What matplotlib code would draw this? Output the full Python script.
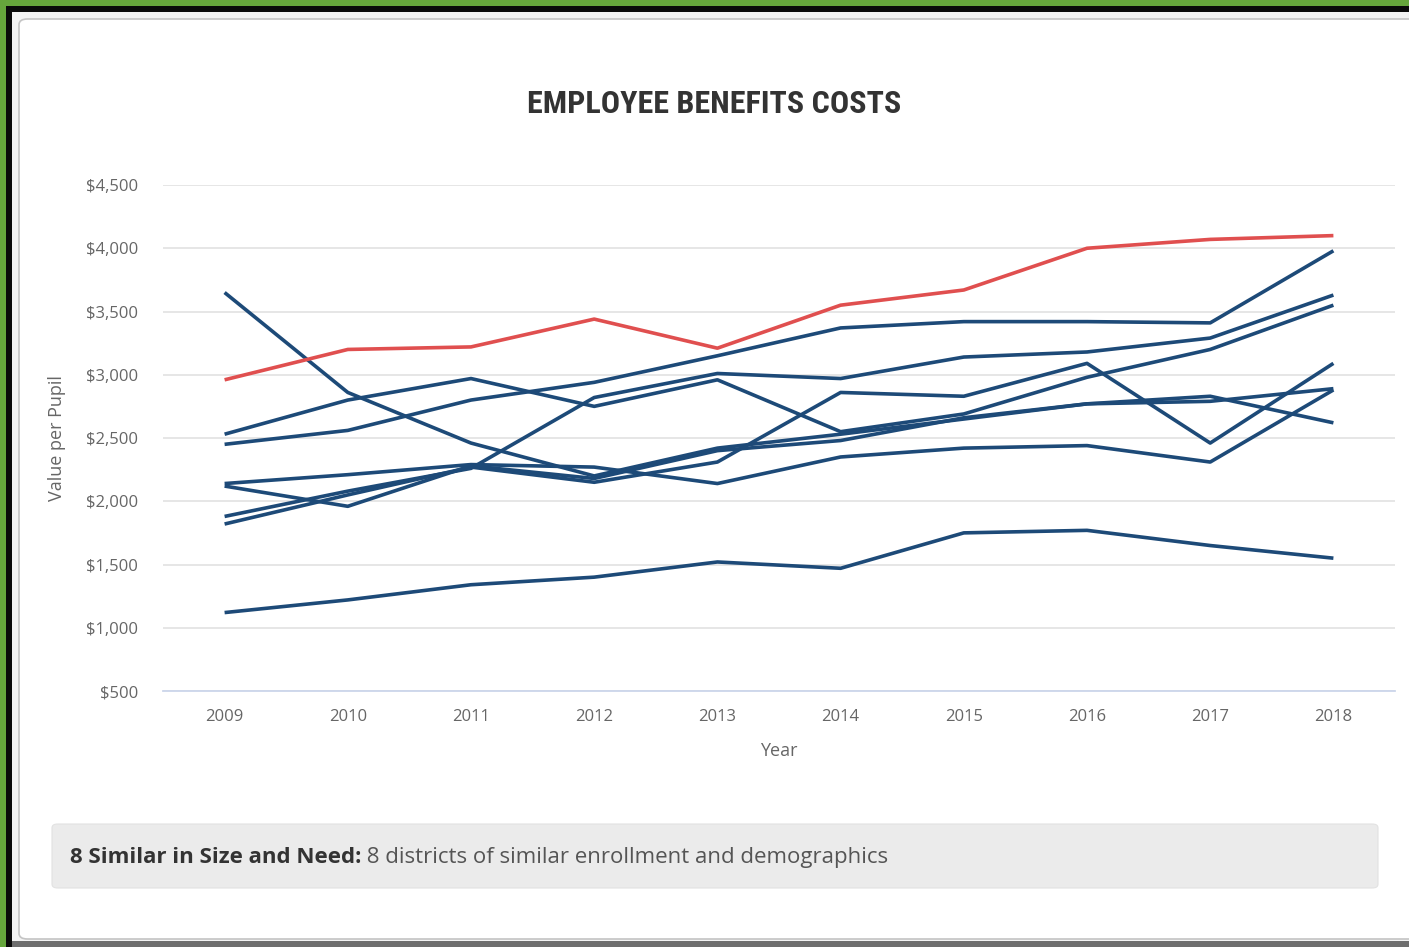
import matplotlib
matplotlib.use("Agg")
import matplotlib.pyplot as plt
from matplotlib.patches import Rectangle, FancyBboxPatch
from matplotlib import font_manager
from matplotlib.ticker import FuncFormatter

# data
years = list(range(2009, 2019))
district = [2960, 3200, 3220, 3440, 3210, 3550, 3670, 4000, 4070, 4100]
peers = [
    [2450, 2560, 2800, 2940, 3150, 3370, 3420, 3420, 3410, 3980],
    [2530, 2800, 2970, 2750, 2960, 2550, 2690, 2980, 3200, 3550],
    [3650, 2860, 2460, 2200, 2420, 2530, 2650, 2770, 2830, 2620],
    [1880, 2080, 2260, 2820, 3010, 2970, 3140, 3180, 3290, 3630],
    [1820, 2050, 2270, 2150, 2310, 2860, 2830, 3090, 2460, 3090],
    [2140, 2210, 2290, 2270, 2140, 2350, 2420, 2440, 2310, 2880],
    [2120, 1960, 2280, 2180, 2400, 2480, 2660, 2770, 2790, 2890],
    [1120, 1220, 1340, 1400, 1520, 1470, 1750, 1770, 1650, 1550],
]
y_ticks = [500, 1000, 1500, 2000, 2500, 3000, 3500, 4000, 4500]

title = "EMPLOYEE BENEFITS COSTS"
note_bold = "8 Similar in Size and Need:"
note_text = " 8 districts of similar enrollment and demographics"

W, H = 1409, 947
BLUE = "#1d4a78"
RED = "#e04f4f"

# pick a condensed face for the title if one is installed
names = {f.name for f in font_manager.fontManager.ttflist}
title_font = "DejaVu Sans"
for cand in ["Roboto Condensed", "Liberation Sans Narrow", "DejaVu Sans Condensed", "Open Sans Condensed"]:
    if cand in names:
        title_font = cand
        break

plt.rcParams["font.family"] = ["Open Sans", "DejaVu Sans"]


def px(x, y):
    return x / W, 1 - y / H


fig = plt.figure(figsize=(W / 100, H / 100), dpi=100)
fig.patch.set_facecolor("#66a63c")

# frame: black band, pale margin, white card
fig.patches.append(Rectangle(px(6, H + 5), (W + 10) / W, (H - 1) / H,
                             transform=fig.transFigure, facecolor="#0a0a0a", edgecolor="none", zorder=0))
fig.patches.append(Rectangle(px(12, H - 6), (W + 10) / W, (H - 18) / H,
                             transform=fig.transFigure, facecolor="#f3f3f3", edgecolor="none", zorder=0))
fig.patches.append(Rectangle(px(12, H + 5), (W + 10) / W, 11 / H,
                             transform=fig.transFigure, facecolor="#6e6e6e", edgecolor="none", zorder=0))
card = FancyBboxPatch(px(19, 939), (W + 20) / W, (939 - 19) / H,
                      boxstyle="round,pad=0,rounding_size=0.006",
                      transform=fig.transFigure, facecolor="white", edgecolor="#c4c4c4",
                      linewidth=1.2, zorder=1)
fig.patches.append(card)

# footer box
foot = FancyBboxPatch(px(52, 888), (1378 - 52) / W, (888 - 824) / H,
                      boxstyle="round,pad=0,rounding_size=0.004",
                      transform=fig.transFigure, facecolor="#ebebeb", edgecolor="#e2e2e2",
                      linewidth=0.8, zorder=2)
fig.patches.append(foot)

# axes area
left, top = px(163, 185)
right, bottom = px(1395, 691)
ax = fig.add_axes([left, bottom, right - left, top - bottom])
ax.set_facecolor("none")
ax.set_zorder(3)

for vals in peers:
    ax.plot(years, vals, color=BLUE, lw=2.6, solid_capstyle="butt", zorder=3)
ax.plot(years, district, color=RED, lw=2.6, solid_capstyle="butt", zorder=4)

ax.set_xlim(2008.5, 2018.5)
ax.set_ylim(500, 4500)
ax.set_yticks(y_ticks)
ax.set_xticks(years)
ax.yaxis.set_major_formatter(FuncFormatter(lambda v, p: "${:,.0f}".format(v)))
ax.grid(axis="y", color="#e4e4e4", lw=1.3, zorder=0)
ax.set_axisbelow(True)
for s in ["top", "right", "left"]:
    ax.spines[s].set_visible(False)
ax.spines["bottom"].set_color("#ccd6eb")
ax.spines["bottom"].set_linewidth(1.3)
ax.tick_params(axis="both", length=0, labelcolor="#666666", labelsize=12)
ax.tick_params(axis="y", pad=18)
ax.tick_params(axis="x", pad=13)
ax.set_xlabel("Year", fontsize=13, color="#666666", labelpad=12)
ax.set_ylabel("Value per Pupil", fontsize=13, color="#666666", labelpad=14)

fig.text(*px(714, 104), title, family=title_font, fontweight="bold", fontstretch="condensed",
         fontsize=23, color="#333333", ha="center", va="center", zorder=5)

t1 = fig.text(*px(70, 857), note_bold, fontsize=16, fontweight="bold", color="#333333",
              ha="left", va="center", zorder=5)
fig.canvas.draw()
bb = t1.get_window_extent()
fig.text(bb.x1 / W, 1 - 857 / H, note_text, fontsize=16, color="#555555",
         ha="left", va="center", zorder=5)

fig.savefig("out.png", dpi=100, facecolor=fig.get_facecolor())
